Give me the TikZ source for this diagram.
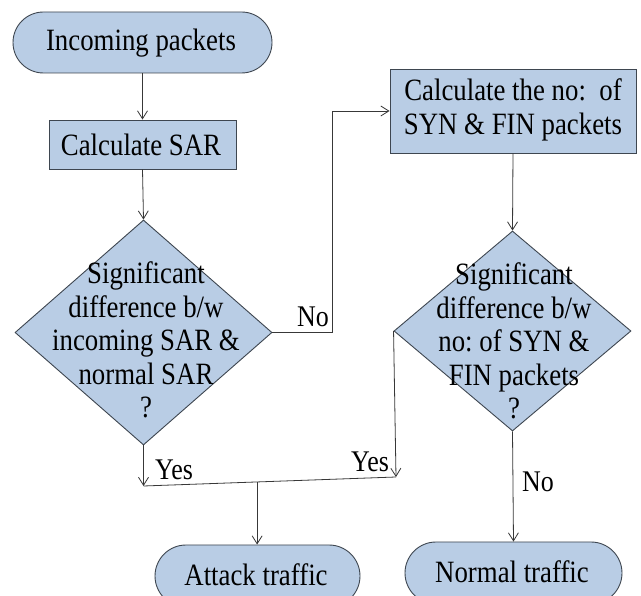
\documentclass[tikz,border=0pt]{standalone}
\usepackage{fontspec}
\setmainfont{Liberation Serif}
\newfontfamily\chartfont{Liberation Serif}[FakeStretch=0.865]
\usetikzlibrary{shapes.geometric,shapes.misc,arrows.meta,calc}
\definecolor{boxfill}{HTML}{B9CDE5}
\definecolor{boxline}{HTML}{3E4650}
\definecolor{wire}{HTML}{383838}
\tikzset{
  txt/.style={font=\chartfont\fontsize{31}{33.5}\selectfont, align=center, inner sep=0pt},
  terminal/.style={rounded rectangle, draw=boxline, fill=boxfill, line width=0.9pt, inner sep=0pt},
  process/.style={rectangle, draw=boxline, fill=boxfill, line width=0.9pt, inner sep=0pt},
  decision/.style={diamond, draw=boxline, fill=boxfill, line width=0.9pt, inner sep=0pt},
  wireline/.style={draw=wire, line width=0.8pt},
  arr/.style={wireline, -{Straight Barb[length=8pt,width=10pt,line width=0.8pt]}},
  lbl/.style={font=\chartfont\fontsize{30}{32}\selectfont, inner sep=0pt}
}
\begin{document}
\begin{tikzpicture}[x=1pt,y=-1pt]
\useasboundingbox (0,0) rectangle (641,596);
\fill[white] (0,0) rectangle (641,596);

% shapes
\node[terminal, minimum width=259pt, minimum height=61pt] (inc) at (142.5,42.5) {};
\node[txt] (inct) at (141,43) {Incoming packets};

\node[process, minimum width=187pt, minimum height=49pt] (sar) at (142.5,144.5) {};
\node[txt] (sart) at (141,145) {Calculate SAR};

\node[decision, minimum width=257pt, minimum height=225pt] (d1) at (143.5,332.5) {};
\node[txt] (d1t) at (146,340) {Significant\\difference b/w\\incoming SAR \&\\normal SAR\\?};

\node[process, minimum width=246pt, minimum height=84pt] (cnt) at (513,111) {};
\node[txt] (cntt) at (513,110) {Calculate the no:\ \ of\\SYN \& FIN packets};

\node[decision, minimum width=237pt, minimum height=200pt] (d2) at (512.5,331) {};
\node[txt] (d2t) at (514,341) {Significant\\difference b/w\\no:\ of SYN \&\\FIN packets\\?};

\node[terminal, minimum width=205pt, minimum height=62pt] (att) at (257.5,576) {};
\node[txt] (attt) at (256,575) {Attack traffic};

\node[terminal, minimum width=217pt, minimum height=62pt] (nor) at (513.5,573) {};
\node[txt] (nort) at (512,572) {Normal traffic};

% connectors
\draw[arr] (inc.south) -- (sar.north);
\draw[arr] (sar.south) -- (d1.north);

\coordinate (nobend) at (332,332.5);
\draw[arr] (d1.east) -- (nobend) |- (cnt.west);
\node[lbl, anchor=east] (no1) at (329,317) {No};

\draw[arr] (cnt.south) -- (d2.north);

\coordinate (yl) at (143.5,486);
\coordinate (yr) at (396,477);
\coordinate (ym) at ($(yl)!0.45!(yr)$);
\draw[arr] (d1.south) -- (yl);
\draw[arr] (d2.west) -- (yr);
\draw[wireline] (yl) -- (yr);
\draw[arr] (ym) -- (ym |- att.north);
\node[lbl] (yes1) at (174,470) {Yes};
\node[lbl] (yes2) at (370,462) {Yes};

\draw[arr] (d2.south) -- (nor.north);
\node[lbl] (no2) at (538,482) {No};
\end{tikzpicture}
\end{document}
